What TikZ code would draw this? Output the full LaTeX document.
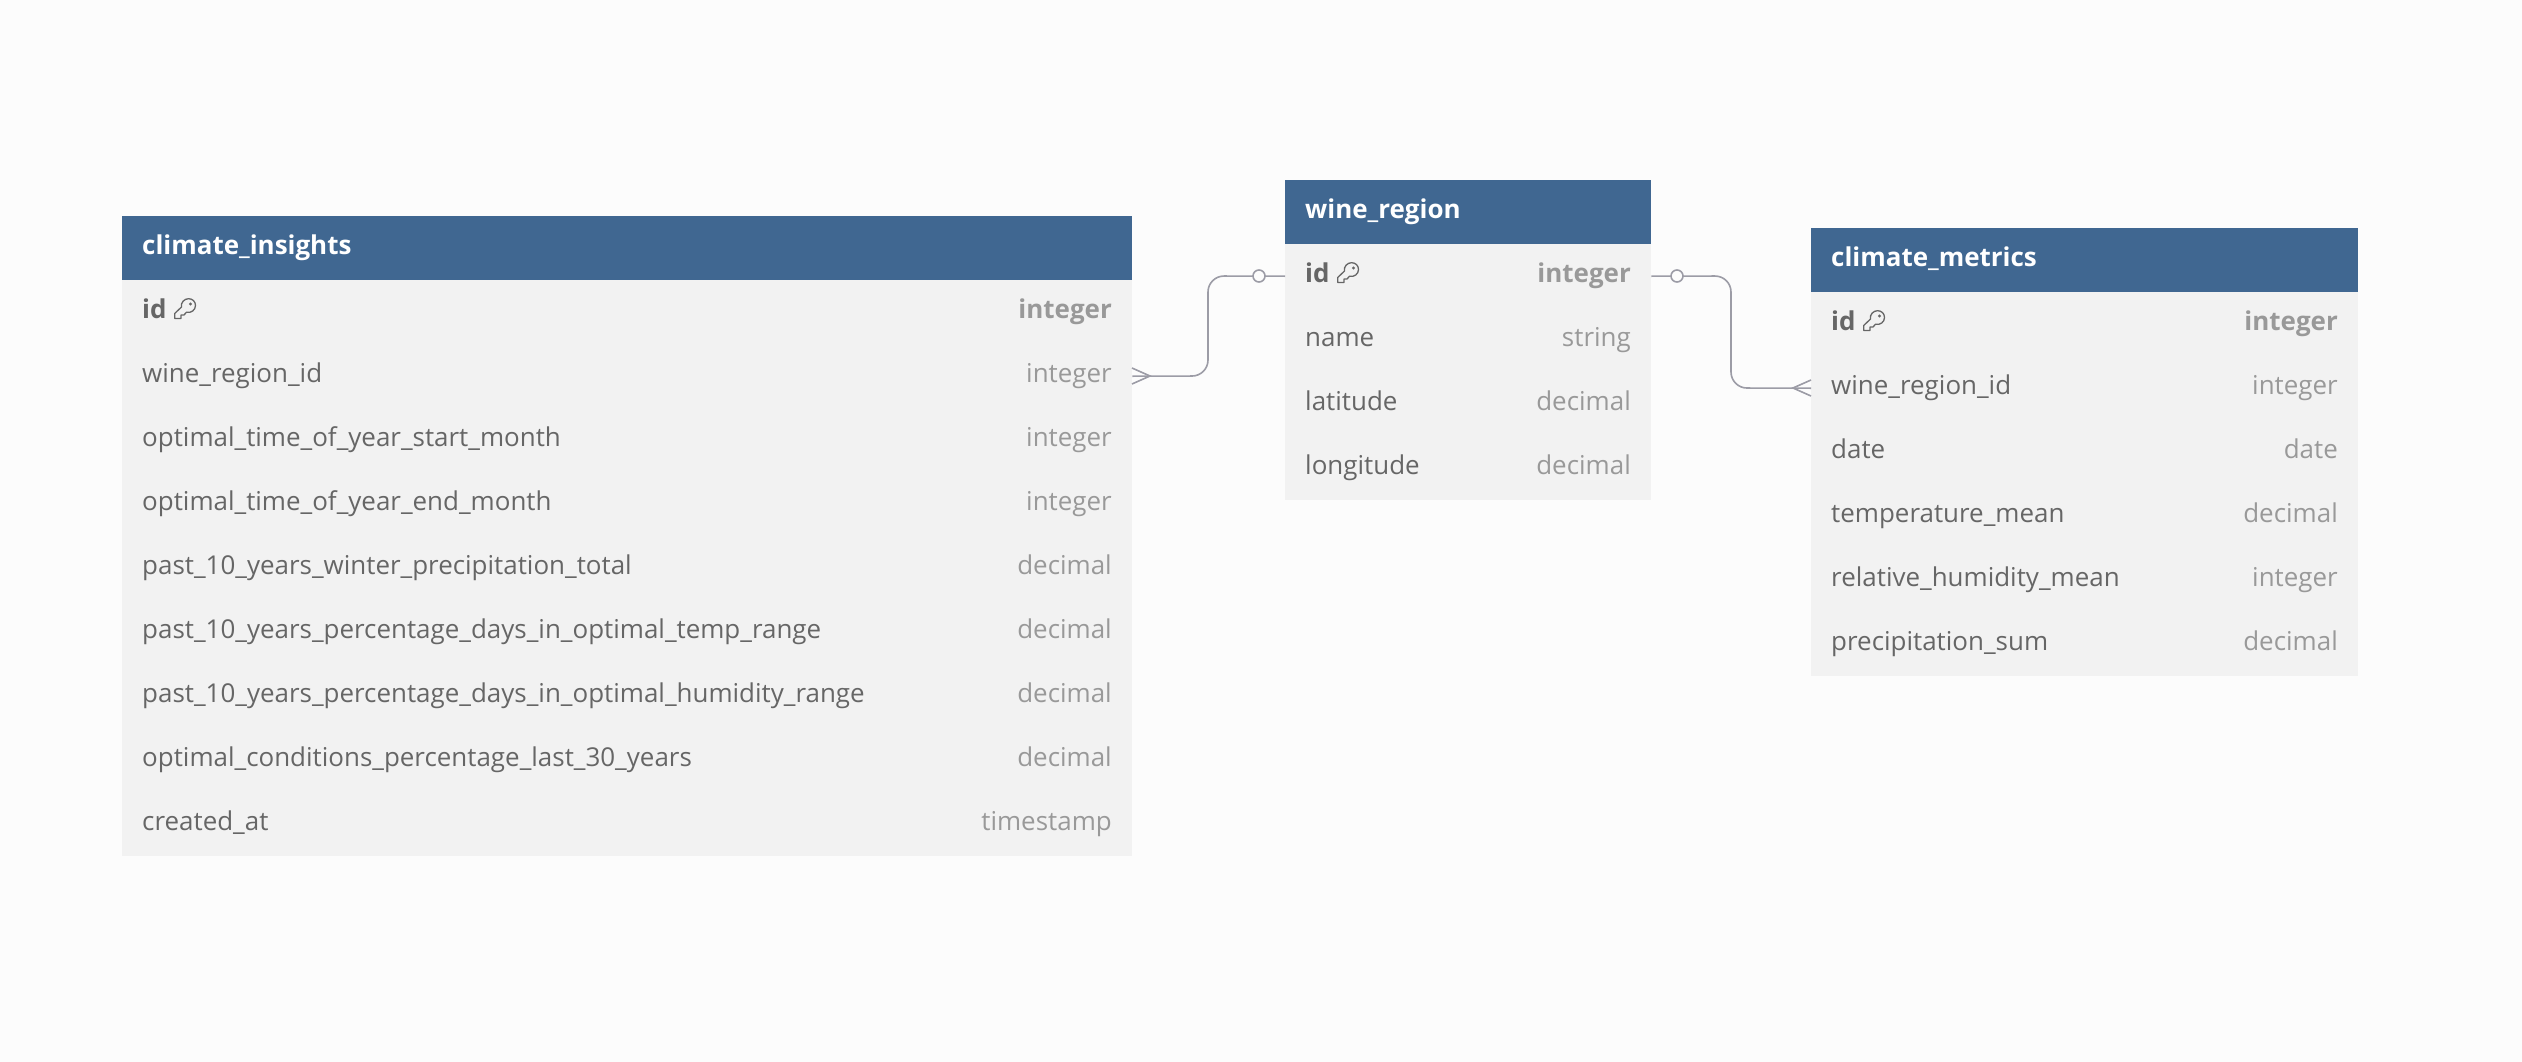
\documentclass[tikz,border=0pt]{standalone}
\usepackage{fontspec}
\setmainfont{Open Sans}
\definecolor{pagebg}{HTML}{FCFCFC}
\definecolor{headbg}{HTML}{406791}
\definecolor{rowbg}{HTML}{F2F2F2}
\definecolor{nametxt}{HTML}{666666}
\definecolor{typetxt}{HTML}{999999}
\definecolor{linkc}{HTML}{9C9CA6}
\newcommand{\tfont}{\fontsize{25.95}{30}\selectfont}
\tikzset{
  x=1pt,y=-1pt,
  head/.style={fill=headbg,draw=none,inner sep=0,anchor=north west,minimum height=64pt},
  row/.style={fill=rowbg,draw=none,inner sep=0,anchor=north west,minimum height=64pt},
  title/.style={anchor=base west,inner sep=0,text=white,font=\tfont\bfseries},
  fname/.style={anchor=base west,inner sep=0,text=nametxt,font=\tfont},
  ftype/.style={anchor=base east,inner sep=0,text=typetxt,font=\tfont},
  pkname/.style={fname,font=\tfont\bfseries},
  pktype/.style={ftype,font=\tfont\bfseries},
  link/.style={draw=linkc,line width=1.6pt,rounded corners=16pt},
  crow/.style={draw=linkc,line width=1.6pt},
  ring/.style={circle,draw=linkc,line width=1.6pt,fill=pagebg,minimum size=12pt,inner sep=0},
  keyline/.style={draw=nametxt,line width=1.3pt,line join=round},
  pics/keyicon/.style={code={
    \draw[keyline] (7.5,9) -- (0.7,15.5) -- (0.7,20.5) -- (7,20.5) -- (7,17) -- (10,17) -- (12.5,14.2)
      .. controls (17,15.5) and (21.5,12) .. (21.5,7.5)
      .. controls (21.5,3.5) and (18.5,0.7) .. (14.5,0.7)
      .. controls (10.5,0.7) and (6.5,4.5) .. (7.5,9) -- cycle;
    \fill[nametxt] (16.5,6) circle (1.6);
  }},
}
\begin{document}
\begin{tikzpicture}
\useasboundingbox (0,0) rectangle (2522,1062);
\fill[pagebg] (0,0) rectangle (2522,1062);

% climate_insights
\node[head,minimum width=1010pt] (cih) at (122,216) {};
\node[title] (cit) at (142,254) {climate\_insights};
\foreach \n/\y in {a/280,b/344,c/408,d/472,e/536,f/600,g/664,h/728,i/792}{
  \node[row,minimum width=1010pt] (ci\n) at (122,\y) {};
}
\foreach \n/\y/\nm/\ty in {
  b/344/wine\_region\_id/integer,
  c/408/optimal\_time\_of\_year\_start\_month/integer,
  d/472/optimal\_time\_of\_year\_end\_month/integer,
  e/536/past\_10\_years\_winter\_precipitation\_total/decimal,
  f/600/past\_10\_years\_percentage\_days\_in\_optimal\_temp\_range/decimal,
  g/664/past\_10\_years\_percentage\_days\_in\_optimal\_humidity\_range/decimal,
  h/728/optimal\_conditions\_percentage\_last\_30\_years/decimal,
  i/792/created\_at/timestamp}{
  \node[fname] (ci\n n) at (142,\y+38) {\nm};
  \node[ftype] (ci\n t) at (1112,\y+38) {\ty};
}
\node[pkname] (cian) at (142,318) {id};
\node[pktype] (ciat) at (1112,318) {integer};
\pic at (174,298) {keyicon};

% wine_region
\node[head,minimum width=366pt] (wrh) at (1285,180) {};
\node[title] (wrt) at (1305,218) {wine\_region};
\foreach \n/\y in {a/244,b/308,c/372,d/436}{
  \node[row,minimum width=366pt] (wr\n) at (1285,\y) {};
}
\foreach \n/\y/\nm/\ty in {b/308/name/string,c/372/latitude/decimal,d/436/longitude/decimal}{
  \node[fname] (wr\n n) at (1305,\y+38) {\nm};
  \node[ftype] (wr\n t) at (1631,\y+38) {\ty};
}
\node[pkname] (wran) at (1305,282) {id};
\node[pktype] (wrat) at (1631,282) {integer};
\pic at (1337,262) {keyicon};

% climate_metrics
\node[head,minimum width=547pt] (cmh) at (1811,228) {};
\node[title] (cmt) at (1831,266) {climate\_metrics};
\foreach \n/\y in {a/292,b/356,c/420,d/484,e/548,f/612}{
  \node[row,minimum width=547pt] (cm\n) at (1811,\y) {};
}
\foreach \n/\y/\nm/\ty in {
  b/356/wine\_region\_id/integer,
  c/420/date/date,
  d/484/temperature\_mean/decimal,
  e/548/relative\_humidity\_mean/integer,
  f/612/precipitation\_sum/decimal}{
  \node[fname] (cm\n n) at (1831,\y+38) {\nm};
  \node[ftype] (cm\n t) at (2338,\y+38) {\ty};
}
\node[pkname] (cman) at (1831,330) {id};
\node[pktype] (cmat) at (2338,330) {integer};
\pic at (1863,310) {keyicon};

% connectors
\draw[link] (wra.west) -- (1208,276) -- (1208,376) -- (cib.east);
\node[ring] (r1) at (1259,276) {};
\draw[crow] (1132,368) -- (1150,376) -- (1132,384);
\draw[link] (wra.east) -- (1731,276) -- (1731,388) -- (cmb.west);
\node[ring] (r2) at (1677,276) {};
\draw[crow] (1811,380) -- (1793,388) -- (1811,396);
\end{tikzpicture}
\end{document}
